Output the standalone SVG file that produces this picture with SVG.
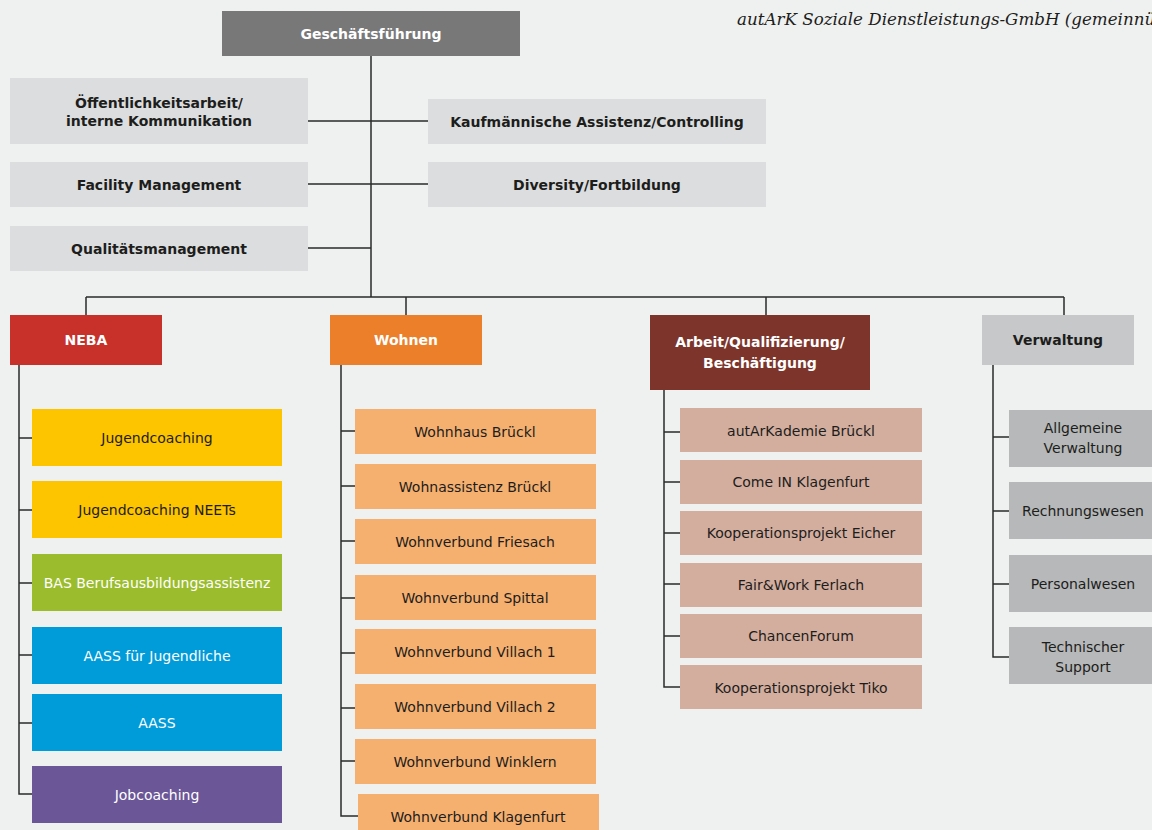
<svg xmlns="http://www.w3.org/2000/svg" width="1152" height="830" viewBox="0 0 1152 830">
<style>
text{font-family:"DejaVu Sans","Noto Sans",sans-serif;font-size:14px;text-anchor:middle;fill:#1d1d1b}
.b{font-weight:bold}
.w{fill:#ffffff}
.ln{fill:none;stroke:#2a2a2a;stroke-width:1.5}
.staff{fill:#dcdddf}
.yel{fill:#fdc400}
.grn{fill:#9bbd2d}
.blu{fill:#009bd9}
.pur{fill:#6b5698}
.ora{fill:#f5b070}
.bro{fill:#d3ae9f}
.gry{fill:#b6b8b9}
.title{font-family:"DejaVu Serif","Liberation Serif",serif;font-style:italic;font-size:16.7px;text-anchor:start;fill:#1d1d1b}
</style>
<rect width="1152" height="830" fill="#eff1f0"/>
<text class="title" x="737" y="25">autArK Soziale Dienstleistungs-GmbH (gemeinnützig)</text>
<g id="connectors">
<path class="ln" d="M371 56V297M308 121H428M308 184H428M308 248H371M86 297H1064M86 297V315M406 297V315M766 297V315M1064 297V315"/>
<path class="ln" d="M19 365V794H32M19 438H32M19 510H32M19 583H32M19 655H32M19 723H32"/>
<path class="ln" d="M341 365V816H358M341 431H355M341 486H355M341 541H355M341 598H355M341 653H355M341 708H355M341 761H355"/>
<path class="ln" d="M664 390V687H680M664 432H680M664 482H680M664 533H680M664 584H680M664 636H680"/>
<path class="ln" d="M993 365V657H1009M993 437H1009M993 511H1009M993 584H1009"/>
</g>
<g id="gf"><rect x="222" y="11" width="298" height="45" fill="#787878"/><text class="b w" x="371" y="39">Geschäftsführung</text></g>
<g id="oeff"><rect class="staff" x="10" y="78" width="298" height="66"/><text class="b" x="159" y="108">Öffentlichkeitsarbeit/</text><text class="b" x="159" y="126">interne Kommunikation</text></g>
<g id="facility"><rect class="staff" x="10" y="162" width="298" height="45"/><text class="b" x="159" y="190">Facility Management</text></g>
<g id="qm"><rect class="staff" x="10" y="226" width="298" height="45"/><text class="b" x="159" y="254">Qualitätsmanagement</text></g>
<g id="kaufm"><rect class="staff" x="428" y="99" width="338" height="45"/><text class="b" x="597" y="127">Kaufmännische Assistenz/Controlling</text></g>
<g id="diversity"><rect class="staff" x="428" y="162" width="338" height="45"/><text class="b" x="597" y="190">Diversity/Fortbildung</text></g>
<g id="neba"><rect x="10" y="315" width="152" height="50" fill="#c8302a"/><text class="b w" x="86" y="345">NEBA</text></g>
<g id="wohnen"><rect x="330" y="315" width="152" height="50" fill="#ec7f2a"/><text class="b w" x="406" y="345">Wohnen</text></g>
<g id="arbeit"><rect x="650" y="315" width="220" height="75" fill="#7c342b"/><text class="b w" x="760" y="347">Arbeit/Qualifizierung/</text><text class="b w" x="760" y="368">Beschäftigung</text></g>
<g id="verwaltung"><rect x="982" y="315" width="152" height="50" fill="#c6c8c9"/><text class="b" x="1058" y="345">Verwaltung</text></g>
<g id="jc"><rect class="yel" x="32" y="409" width="250" height="57"/><text x="157" y="443">Jugendcoaching</text></g>
<g id="jcn"><rect class="yel" x="32" y="481" width="250" height="57"/><text x="157" y="515">Jugendcoaching NEETs</text></g>
<g id="bas"><rect class="grn" x="32" y="554" width="250" height="57"/><text class="w" x="157" y="588">BAS Berufsausbildungsassistenz</text></g>
<g id="aassj"><rect class="blu" x="32" y="627" width="250" height="57"/><text class="w" x="157" y="661">AASS für Jugendliche</text></g>
<g id="aass"><rect class="blu" x="32" y="694" width="250" height="57"/><text class="w" x="157" y="728">AASS</text></g>
<g id="jobc"><rect class="pur" x="32" y="766" width="250" height="57"/><text class="w" x="157" y="800">Jobcoaching</text></g>
<g id="w1"><rect class="ora" x="355" y="409" width="241" height="45"/><text x="475" y="437">Wohnhaus Brückl</text></g>
<g id="w2"><rect class="ora" x="355" y="464" width="241" height="45"/><text x="475" y="492">Wohnassistenz Brückl</text></g>
<g id="w3"><rect class="ora" x="355" y="519" width="241" height="45"/><text x="475" y="547">Wohnverbund Friesach</text></g>
<g id="w4"><rect class="ora" x="355" y="575" width="241" height="45"/><text x="475" y="603">Wohnverbund Spittal</text></g>
<g id="w5"><rect class="ora" x="355" y="629" width="241" height="45"/><text x="475" y="657">Wohnverbund Villach 1</text></g>
<g id="w6"><rect class="ora" x="355" y="684" width="241" height="45"/><text x="475" y="712">Wohnverbund Villach 2</text></g>
<g id="w7"><rect class="ora" x="355" y="739" width="241" height="45"/><text x="475" y="767">Wohnverbund Winklern</text></g>
<g id="w8"><rect class="ora" x="358" y="794" width="241" height="45"/><text x="478" y="822">Wohnverbund Klagenfurt</text></g>
<g id="a1"><rect class="bro" x="680" y="408" width="242" height="44"/><text x="801" y="436">autArKademie Brückl</text></g>
<g id="a2"><rect class="bro" x="680" y="460" width="242" height="44"/><text x="801" y="487">Come IN Klagenfurt</text></g>
<g id="a3"><rect class="bro" x="680" y="511" width="242" height="44"/><text x="801" y="538">Kooperationsprojekt Eicher</text></g>
<g id="a4"><rect class="bro" x="680" y="563" width="242" height="44"/><text x="801" y="590">Fair&amp;Work Ferlach</text></g>
<g id="a5"><rect class="bro" x="680" y="614" width="242" height="44"/><text x="801" y="641">ChancenForum</text></g>
<g id="a6"><rect class="bro" x="680" y="665" width="242" height="44"/><text x="801" y="693">Kooperationsprojekt Tiko</text></g>
<g id="v1"><rect class="gry" x="1009" y="410" width="148" height="57"/><text x="1083" y="433">Allgemeine</text><text x="1083" y="453">Verwaltung</text></g>
<g id="v2"><rect class="gry" x="1009" y="482" width="148" height="57"/><text x="1083" y="516">Rechnungswesen</text></g>
<g id="v3"><rect class="gry" x="1009" y="555" width="148" height="57"/><text x="1083" y="589">Personalwesen</text></g>
<g id="v4"><rect class="gry" x="1009" y="627" width="148" height="57"/><text x="1083" y="652">Technischer</text><text x="1083" y="672">Support</text></g>
</svg>
